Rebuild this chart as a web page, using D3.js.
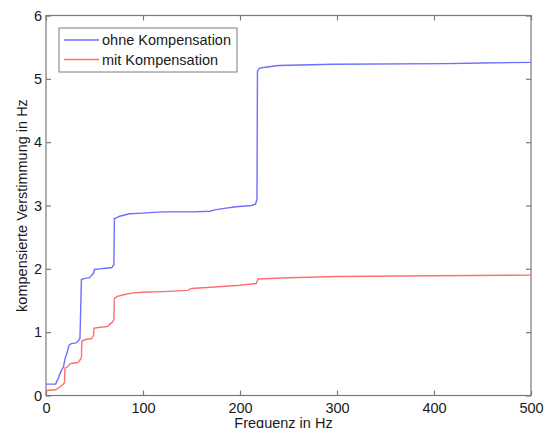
<!DOCTYPE html>
<html>
<head>
<meta charset="utf-8">
<script src="https://cdn.jsdelivr.net/npm/d3@7"></script>
<style>
  body { margin: 0; background: #fff; }
  text { font-family: "Liberation Sans", Arial, sans-serif; fill: #1a1a1a; }
  .tick line { stroke: #7a7a7a; stroke-width: 1.2; }
</style>
</head>
<body>
<div id="chart"></div>
<script>
// Frequenz (Hz) / Verstimmung (Hz)
let ohneHz   = [0, 10, 11, 13, 14, 16, 18, 19, 20, 21, 23, 24, 26, 31, 33, 34, 35, 36, 36.5, 40, 45, 47, 49, 50, 55, 62, 68, 69, 70, 70.5, 73, 76, 86, 100, 120, 150, 169, 174, 182, 196, 212, 216, 217.5, 218, 220, 230, 240, 296, 413, 450, 500];
let ohneVals = [0.18, 0.18, 0.22, 0.28, 0.33, 0.4, 0.45, 0.53, 0.6, 0.64, 0.75, 0.8, 0.82, 0.83, 0.86, 0.88, 0.9, 1.5, 1.83, 1.85, 1.86, 1.9, 1.93, 1.99, 2.0, 2.01, 2.02, 2.05, 2.06, 2.79, 2.81, 2.83, 2.87, 2.88, 2.9, 2.9, 2.91, 2.93, 2.95, 2.98, 3.0, 3.02, 3.1, 5.12, 5.17, 5.19, 5.21, 5.23, 5.24, 5.25, 5.26];

let mitHz   = [0, 10, 14, 18, 19, 19.6, 22, 24.7, 27, 33, 35, 36.5, 37, 40, 47, 49, 49.5, 52, 64, 65, 68, 70, 70.4, 73, 80, 90, 100, 121, 146, 150, 170, 200, 217, 218.5, 250, 300, 400, 500];
let mitVals = [0.08, 0.09, 0.13, 0.18, 0.2, 0.43, 0.45, 0.5, 0.51, 0.52, 0.56, 0.6, 0.86, 0.88, 0.9, 0.95, 1.06, 1.07, 1.09, 1.12, 1.15, 1.2, 1.53, 1.56, 1.59, 1.62, 1.63, 1.64, 1.66, 1.69, 1.71, 1.74, 1.77, 1.84, 1.86, 1.88, 1.89, 1.9];

let xTicks = [0, 100, 200, 300, 400, 500];
let yTicks = [0, 1, 2, 3, 4, 5, 6];
let seriesNames = ["ohne Kompensation", "mit Kompensation"];
let seriesColors = ["#6f6fff", "#ff6f6f"];

let svgWidth = 547;
let svgHeight = 428;

let margin = {
    top: 15.5,
    right: 16,
    bottom: 32.5,
    left: 46
};

let width = svgWidth - margin.left - margin.right
let height = svgHeight - margin.top - margin.bottom

let svg = d3.select("#chart")
            .append("svg")
            .attr("width", svgWidth)
            .attr("height", svgHeight);

let chartGroup = svg.append("g")
                    .attr("transform", `translate(${margin.left}, ${margin.top})`);

let xScale = d3.scaleLinear().domain([0, 500]).range([0, width]);
let yScale = d3.scaleLinear().domain([0, 6]).range([height, 0]);

// axes, ticks pointing inward like matlab
chartGroup.append("g")
        .attr("transform", `translate(0, ${height})`)
        .call(d3.axisBottom(xScale).tickValues(xTicks).tickFormat(d3.format("d")).tickSize(-5).tickPadding(7))
        .attr("font-size", "14.5px");

chartGroup.append("g")
        .call(d3.axisLeft(yScale).tickValues(yTicks).tickFormat(d3.format("d")).tickSize(-5).tickPadding(4))
        .attr("font-size", "14.5px");

chartGroup.append("g")
        .call(d3.axisTop(xScale).tickValues(xTicks).tickSize(-5).tickFormat(""));

chartGroup.append("g")
        .attr("transform", `translate(${width}, 0)`)
        .call(d3.axisRight(yScale).tickValues(yTicks).tickSize(-5).tickFormat(""));

chartGroup.selectAll(".domain").remove();
chartGroup.selectAll(".tick text").attr("fill", "#1a1a1a");

chartGroup.append("rect")
        .attr("width", width)
        .attr("height", height)
        .attr("fill", "none")
        .attr("stroke", "#7a7a7a")
        .attr("stroke-width", 1.2);

// lines
let line = d3.line()
        .x(d => xScale(d[0]))
        .y(d => yScale(d[1]));

let series = [
    d3.zip(ohneHz, ohneVals),
    d3.zip(mitHz, mitVals)
];

series.forEach((s, i) => {
    chartGroup.append("path")
        .datum(s)
        .attr("fill", "none")
        .attr("stroke", seriesColors[i])
        .attr("stroke-width", 1.4)
        .attr("d", line);
});

// legend
let legend = svg.append("g").attr("transform", "translate(59, 28)");

legend.append("rect")
        .attr("width", 178)
        .attr("height", 44)
        .attr("fill", "#fff")
        .attr("stroke", "#7a7a7a")
        .attr("stroke-width", 1);

seriesNames.forEach((name, i) => {
    let yy = 12 + i * 19.5;
    legend.append("line")
        .attr("x1", 5).attr("x2", 40)
        .attr("y1", yy).attr("y2", yy)
        .attr("stroke", seriesColors[i])
        .attr("stroke-width", 1.4);
    legend.append("text")
        .attr("x", 43)
        .attr("y", yy)
        .attr("dy", "0.35em")
        .attr("font-size", "14.5px")
        .text(name);
});

// axis labels
svg.append("text")
    .attr("transform", `translate(26.5, ${margin.top + height / 2}) rotate(-90)`)
    .attr("text-anchor", "middle")
    .attr("font-size", "14.5px")
    .text("kompensierte Verstimmung in Hz");

svg.append("text")
    .attr("x", margin.left + width / 2 - 5)
    .attr("y", 427.5)
    .attr("text-anchor", "middle")
    .attr("font-size", "14.5px")
    .text("Frequenz in Hz");
</script>
</body>
</html>
